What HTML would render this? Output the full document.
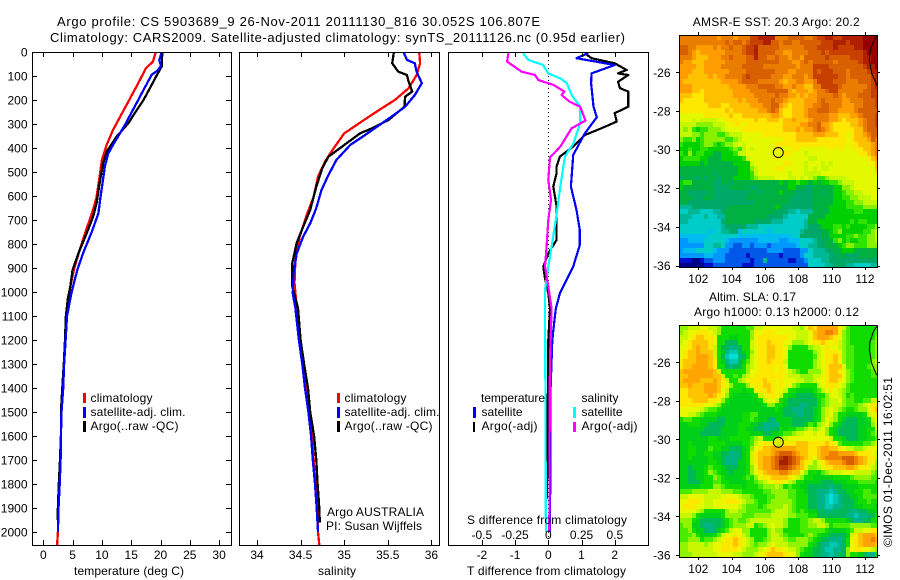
<!DOCTYPE html>
<html>
<head>
<meta charset="utf-8">
<title>Argo profile</title>
<style>
html,body{margin:0;padding:0;background:#fff;}
svg{display:block;}
text{font-family:"Liberation Sans",sans-serif;font-size:12px;fill:#000;}
</style>
</head>
<body>
<svg id="fig" width="900" height="580" viewBox="0 0 900 580" xmlns="http://www.w3.org/2000/svg">
<defs>
<clipPath id="clipT"><rect x="32" y="52" width="199.5" height="493"/></clipPath>
<clipPath id="clipS"><rect x="239" y="52" width="200.5" height="493"/></clipPath>
<clipPath id="clipD"><rect x="448" y="52" width="200.5" height="493"/></clipPath>
<clipPath id="clipM1"><rect x="679" y="35" width="198.5" height="232.5"/></clipPath>
<clipPath id="clipM2"><rect x="679" y="325" width="198.5" height="232"/></clipPath>
</defs>
<rect width="900" height="580" fill="#fff"/>
<text x="57" y="26" font-size="13" style="font-size:13px" textLength="483" lengthAdjust="spacing">Argo profile: CS 5903689_9 26-Nov-2011 20111130_816 30.052S 106.807E</text>
<text x="50" y="42" style="font-size:13px" textLength="575" lengthAdjust="spacing">Climatology: CARS2009. Satellite-adjusted climatology: synTS_20111126.nc (0.95d earlier)</text>

<g id="panelT"></g>
<g id="panelS"></g>
<g id="panelD"></g>
<g id="map1"></g>
<g id="map2"></g>

<text x="74" y="575" textLength="110" lengthAdjust="spacing">temperature (deg C)</text>
<text x="318" y="575" textLength="38" lengthAdjust="spacing">salinity</text>
<text x="467" y="575" textLength="159" lengthAdjust="spacing">T difference from climatology</text>
<text x="467" y="524" textLength="160" lengthAdjust="spacing">S difference from climatology</text>

<g>
<rect x="83" y="393" width="3" height="10" fill="#f00"/>
<rect x="83" y="407" width="3" height="11" fill="#00f"/>
<rect x="83" y="421" width="3" height="11" fill="#000"/>
<text x="90.5" y="402" textLength="62" lengthAdjust="spacing">climatology</text>
<text x="90.5" y="416" textLength="95" lengthAdjust="spacing">satellite-adj. clim.</text>
<text x="90.5" y="430" textLength="88" lengthAdjust="spacing">Argo(..raw -QC)</text>
</g>
<g>
<rect x="337" y="393" width="3" height="10" fill="#f00"/>
<rect x="337" y="407" width="3" height="11" fill="#00f"/>
<rect x="337" y="421" width="3" height="11" fill="#000"/>
<text x="344.5" y="402" textLength="62" lengthAdjust="spacing">climatology</text>
<text x="344.5" y="416" textLength="95" lengthAdjust="spacing">satellite-adj. clim.</text>
<text x="344.5" y="430" textLength="88" lengthAdjust="spacing">Argo(..raw -QC)</text>
<text x="327" y="516" textLength="97" lengthAdjust="spacing">Argo AUSTRALIA</text>
<text x="326" y="530" textLength="96" lengthAdjust="spacing">PI: Susan Wijffels</text>
</g>
<g>
<text x="481" y="402" textLength="64" lengthAdjust="spacing">temperature</text>
<text x="581.5" y="402" textLength="37" lengthAdjust="spacing">salinity</text>
<rect x="473" y="407" width="3" height="11" fill="#00f"/>
<rect x="473" y="422" width="2" height="10" fill="#000"/>
<rect x="573" y="407" width="3" height="11" fill="#0ff"/>
<rect x="573" y="422" width="3" height="10" fill="#f0f"/>
<text x="481.5" y="416" textLength="41" lengthAdjust="spacing">satellite</text>
<text x="481.5" y="430" textLength="56" lengthAdjust="spacing">Argo(-adj)</text>
<text x="581.5" y="416" textLength="41" lengthAdjust="spacing">satellite</text>
<text x="581.5" y="430" textLength="56" lengthAdjust="spacing">Argo(-adj)</text>
</g>

<text x="692.7" y="26" textLength="167" lengthAdjust="spacing">AMSR-E SST: 20.3  Argo: 20.2</text>
<text x="709" y="301" textLength="87" lengthAdjust="spacing">Altim. SLA: 0.17</text>
<text x="694" y="316" textLength="165" lengthAdjust="spacing">Argo h1000: 0.13 h2000: 0.12</text>
<text transform="translate(892,547) rotate(-90)" textLength="170" lengthAdjust="spacing">©IMOS 01-Dec-2011 16:02:51</text>
</svg>

<script>
// ---- temperature profile data
const depthTClim = [0,40,68,130,207,270,325,387,450,520,603,658,728,817,908,978,1026,1100,1200,1300,1400,1500,1600,1700,1800,1900,2000,2054];
const tempClim = [19.2,18.7,17.5,16.2,14.5,13.1,11.9,10.8,10.0,9.6,9.1,8.5,7.5,6.3,5.2,4.6,4.3,3.9,3.7,3.5,3.3,3.05,3.0,2.9,2.75,2.56,2.5,2.35];
const depthTSat = [0,34,60,81,95,144,200,250,305,374,422,478,547,616,672,748,838,908,1005,1100,1200,1300,1400,1500,1600,1700,1800,1900,2000];
const tempSat = [20.2,19.8,20.1,19.3,18.5,17.4,16.2,15.1,13.9,12.2,11.1,10.5,10.1,9.7,9.4,8.3,6.8,5.8,4.8,4.05,3.8,3.55,3.4,3.1,3.0,2.95,2.8,2.6,2.5];
const depthTArgo = [0,60,100,150,200,255,297,353,415,464,547,630,686,755,838,908,978,1026,1100,1200,1300,1400,1500,1600,1700,1800,1900,1950];
const tempArgo = [20.3,20.2,19.3,18.2,17.1,15.6,14.5,12.5,10.8,10.2,9.6,9.1,8.5,7.4,6.0,5.0,4.6,4.2,3.85,3.7,3.5,3.25,3.0,3.0,2.85,2.65,2.5,2.45];

// ---- salinity profile data
const depthSClim = [0,47,96,151,200,244,290,339,401,457,519,603,679,769,867,963,1061,1200,1300,1400,1500,1600,1700,1800,1900,2000,2054];
const salClim = [35.86,35.87,35.83,35.74,35.58,35.39,35.2,35.0,34.88,34.78,34.7,34.65,34.57,34.49,34.44,34.43,34.455,34.49,34.53,34.56,34.6,34.63,34.65,34.67,34.69,34.7,34.715];
const depthSSat = [0,33,47,82,130,179,228,270,308,346,387,450,512,575,650,714,769,839,922,1006,1067,1200,1300,1400,1500,1600,1700,1800,1900,2000];
const salSat = [35.68,35.72,35.81,35.83,35.89,35.81,35.7,35.54,35.39,35.24,35.07,34.91,34.82,34.74,34.68,34.61,34.53,34.455,34.42,34.41,34.44,34.48,34.52,34.55,34.59,34.62,34.64,34.665,34.685,34.7];
const depthSArgo = [0,47,82,96,124,165,186,228,283,318,339,374,436,483,561,658,728,796,879,978,1067,1200,1300,1400,1500,1600,1700,1800,1900,1960];
const salArgo = [35.57,35.55,35.62,35.72,35.74,35.78,35.7,35.69,35.51,35.32,35.18,35.05,34.82,34.75,34.68,34.61,34.53,34.455,34.405,34.405,34.47,34.5,34.54,34.585,34.61,34.655,34.68,34.695,34.715,34.72];

// ---- difference profile data
const depthDTSat = [5,26,54,89,130,186,228,272,339,429,471,561,658,742,804,894,1005,1068,1100,1200,1400,2000];
const diffTSat = [1.2,0.85,2.0,1.3,1.29,1.33,1.36,1.46,1.1,0.75,0.73,0.68,0.85,0.95,0.95,0.75,0.35,0.23,0.2,0.12,0.07,0.05];
const depthDTArgo = [5,26,47,75,89,96,124,151,165,228,255,290,318,346,394,436,478,505,561,644,783,839,894,943,1005,1068,1200,1860];
const diffTArgo = [1.1,1.3,2.0,2.36,2.1,2.41,2.1,2.16,2.41,2.41,2.0,2.06,1.6,1.1,0.75,0.35,0.25,0.25,0.15,0.25,0.25,0,-0.15,-0.1,0,0.05,0,-0.04];
const depthDSSat = [5,33,54,89,110,130,179,228,297,380,436,561,686,811,894,992,1068,1400,2000];
const diffSSat = [-0.19,-0.15,-0.04,0,0.09,0.14,0.175,0.24,0.24,0.19,0.125,0.09,0.06,0.025,0,-0.025,-0.025,-0.022,-0.018];
const depthDSArgo = [5,40,82,96,117,137,165,179,207,228,286,318,394,439,533,617,700,811,894,978,1068,1300,2000];
const diffSArgo = [-0.3,-0.31,-0.2,-0.1,-0.075,0.04,0.12,0.1,0.16,0.24,0.28,0.175,0.09,0.0125,0,0.02,0,-0.0125,-0.025,0,0.025,0.012,0.0075];

// ---- tick labels
const depthTicks = [0,100,200,300,400,500,600,700,800,900,1000,1100,1200,1300,1400,1500,1600,1700,1800,1900,2000];
const tempTicks = [0,5,10,15,20,25,30];
const salTicks = [34,34.5,35,35.5,36];
const dTTicks = [-2,-1,0,1,2];
const dSTicks = [-0.5,-0.25,0,0.25,0.5];
const lonTicks = [102,104,106,108,110,112];
const latTicks = [26,28,30,32,34,36];

// ---- map data (level codes, base 36, rows from north to south)
const sstPalette = ['#000088','#0010c8','#0058e8','#0098ff','#00bcf0','#00ccc8','#00b898','#00a868','#00b040','#00d000','#30e400','#88f000','#c4f800','#e4f800','#ffe800','#ffc000','#ff9c00','#ea7c00','#d86000','#c84000','#b02000','#980000'];
const slaPalette = ['#000088','#0010c8','#0058e8','#0098ff','#00e0d8','#00c8b0','#00b488','#00b858','#00d018','#10dc00','#48ec00','#90f400','#c8f800','#e8f800','#ffe800','#ffc400','#ffa400','#f08000','#d86000','#c04000','#a82000','#980000'];
const sstRows = [
"hhhhhhhh hghhhghh hjjkkkkh hhiiiihh ijjkkjjk kkkkllll",
"hhhhhhhh hhhihiih ijjjkkii hiihhiii iijjjkkk jkkkllll",
"iihhgggg hghhihhi jjkiiiii hhhhhhii ijjjjkjj jjkkllll",
"iihgfggg ggghhhhi jjkiiiih hgghhhhi iijijjjj jjjjklll",
"hhhgfffg gghhihhh iikiihhi hhghhgii iiijiiii ijjjkkll",
"hggfffgg ggghhhhh iiiiiiii hhhgghih iiiiihii iiijkkll",
"ggggffgg gghhhhhi iiiihhhh hhhhghhh jjjjiiii iiiijkkl",
"gggfffgg gggghhhh iiiiiiih hhgghhhh jijjjiii hiiiijkk",
"ggfffffg fgghhhhi jiiiiihh hgghhhgh jjjjjjii hiiiiijk",
"gfffffff ffgggghi iiihhhhh gfgghhgg hjjjjiii hhhiiijk",
"gggfffff ffffgggg hhhiiiih hgghggff hhjjjjih hhhhhijk",
"gggffeff fffffggg ghhhhiii iigfgggf ghhijjhh hhhhiijj",
"fffeeeff fffffggg gghhhhhi hhggfgfg ghhhhihg hhhiiijj",
"feeeeeff ffffffgf ggghhhih hgffffgg ghihhhhg ghhhiiij",
"eeeeeeef ffeeffff fggghhii gfefffgg hhiihhhg gghhiiij",
"eeeeeeee eeefefff fffgghih feefffgh hiiihhgg gghiiiii",
"ddddddee eeeefeef ffffffgg feefffgh hhhhggff fgghiiij",
"dddcdccc cddeeeee eefeefff effgfffg hhhhggfe fffghiij",
"ccccbbbb cccddeed eeeeeeee effffggh higgfeee effghiij",
"cbca9aab bbcdddde eeeeeeee efffgfgg hihgfeee eeffhiii",
"cccbbabb baabcccd ddddeeee eeeeffff gggfffee deffghii",
"baab9abb bbbaabcd dddddddd deeeffff feeeeeee defffgih",
"a9999abb a9abbcdc ddddddde eeeeeeee eeeeeeee deefffgh",
"99a99aa9 9999abac dcddddde dddeeddd ddddeded ddeeffgh",
"a9b9aa99 88999acc dddddddd deedddcd dddddddd dddeefgh",
"9aaaa998 8899999a cdddddde dddddddc cddddddd dddddefg",
"99999898 88888999 9cdddddd deedddcd ddcdcddd ddddddef",
"88888888 88888899 9bcdddde edddddcd cdccdddd dddddddf",
"88888888 78888899 9acddddd ddcdddcc ccdddddd ddddddde",
"78887878 87888999 9abccccd ddccdcdc baabcccc dddddddd",
"9aa88888 77887888 88888888 9899a998 9899aabc ccdddddd",
"98888888 77778888 87788888 88998877 8888899b bcdddddd",
"88777778 77777777 78878888 98887777 8878899a bbccdddd",
"88877788 77777777 88888888 88877777 8888899a abbcccdd",
"88777777 77777777 77888888 88777777 88888999 aabbcccc",
"66677777 77778888 88888889 87777777 88889999 aaaabbbb",
"55666555 66788888 88888887 77665666 88889999 99aa9999",
"66655565 56688888 88888777 76555558 88899999 99999999",
"66555555 55788888 88777766 65555568 89999999 9a9aa999",
"55555555 55677777 66655555 55555567 78999aa9 a9999aab",
"55555554 55667745 55555455 55555677 77889ab9 9999aabc",
"44444445 55555544 44444444 44455777 77889999 aabaabbc",
"33444455 55543333 33344444 33444555 67788ab9 a99aabbc",
"33333355 66533223 32333233 33334556 6778889a bbaaabbb",
"34445555 43332222 22222333 32222335 66677889 99888888",
"33333344 33322222 12222222 12222355 66667788 77788888",
"11100122 33322222 21226222 22112235 55667777 77777777",
"00000011 22222221 11222222 22222225 55566777 66555566"
];
const slaRows = [
"bbcccddc cb999999 aaccdddd dddccbdf egggggec a999999a",
"bcddeeed cb999999 9bddeeed ddddcccd fgghhgeb a999999a",
"ccdeffee d9998899 9bdeeeee eeddcccd fgggfedb a999999b",
"cdeffffe d9977799 9cdeefee eddbbbcd eefedecb a99999ab",
"ddefgffe c9776679 9cdeeffe edb9999b ccdeddcb aa9999ab",
"deffgfff c9865578 9bdeeffe ed999999 bcdeeedb aa9999ab",
"deffgggf c9754467 9cdeeffe ed999999 acdeefeb aa9999ab",
"efffgggf e9865578 acdeefee ec999999 bcdeefdb aa9999bc",
"effggggf e9976779 bcdeeeed ed999999 bcdefffd aa999abb",
"fggggggg fc999999 bddeeeed edcba99b bbdeffed ba9999ab",
"ffgggggg ffc99a9b cdeeeeee edcccbbb ccdefffd ba9999aa",
"fggggfff gfec99bc deeefeed edddccbb cddeffed ba999999",
"ffgfffgg gfedb999 bdeeffed eddba999 9cdeeedc a9999999",
"eeffffgg gfdc9998 99deefed dc998888 9acdedcb a9999999",
"eefffffg fedb9888 889ceeed c9887777 899bddcb 9a999999",
"eeeffffe edb98888 8889cddc 98777777 79abccdb aa99aacc",
"eeeeeedd cb988888 88889bb9 98777667 79abcccb aaabcdee",
"dddddcba a9888888 88888889 87766677 89bcdcba 99abbdef",
"ddccba99 98888889 9aa88888 87776677 89bcdb99 88889cde",
"9aa99888 87788889 9a988768 88877777 89bdcb98 777889cd",
"88999887 77788899 98876666 8887778a 9bcdb987 777888bd",
"88888877 77888899 88776677 9899aabc bcdb9877 7778899c",
"88888777 77888899 98887788 9aabccdd cddb9877 777889ab",
"88888889 98889999 9abc9999 bcdddddd ddddc998 7778899a",
"88988889 99988889 9acdeeee eeeefffe eeefeda9 9999aabc",
"8899888a 99887778 9bdeffgg ggggfffe efggffed ccbbcddd",
"88998899 88776678 9cefffgh iiihgffe efgghhgg ggfeeedc",
"88988889 88766678 9cefgghi jkjihgfe dfghhhhi iihgfeec",
"88888889 98766688 9cefgghi kkjihfed bdefgggh iihgfedb",
"8878889a 99877788 9bdfgghi jjihgfeb bcdeefff ggfeedcb",
"8877889b a9887888 9bdefggg hhgffdb9 98abcccd ddccccba",
"88778899 ba988889 a9bdeeff ffedcb99 88888999 9abbbbaa",
"88777899 aa998888 99abcdde edcb9988 88777888 999aaaa9",
"88888999 bba99998 999abbbc b9a99887 77776778 88899999",
"aaabbbbc ccbbbaa9 9999aabb bbaa9987 76665677 8899aa99",
"ccddddcc ccddddcb ba999aab bbaa9997 76654567 7889aaaa",
"ddeeedcc dddeeedc bba99abb bbba9997 76654567 77899a99",
"deeeddcc ddddddcb aaa9abbb bcba9997 76655667 77889998",
"ddddcb99 999bccbb aaaaaabc ccba9a98 87766777 76677888",
"cccb9888 889bbbba aabbbbcc ccbbaaa9 97777777 66566779",
"bbb98777 7789abaa bccccccc cb999aab ccb99999 87667799",
"abb88766 7789abbb cc9abcdc cb999aab bccb9aaa abbbbbaa",
"aab98876 789acddb b9999bcb b9999aaa aaa98888 9accddee",
"aaab9888 9acddedc b9999bcc ba9999ab a9887777 8cefgggf",
"aabbb9aa bcdeefed cb99abcc cbaabbba 98776667 9defgghg",
"bbccccbc ddeeefed cbabbcdc ccbbbbb9 87665567 9defgggf",
"bbcccccc ddeeeedc bbbcdefe edccba98 77655667 bdeeddcb",
"bbbccccc cddddccb bbcdefff feddb988 77665677 b9987669"
];
const coastLon = [112.74,112.5,112.3,112.26,112.4,112.7];
const coastLat = [24.09,24.42,24.93,25.36,26.05,26.66];
const floatLon = 106.8;
const floatLat = 30.15;

// ---- scales
const yDepth = d => 52 + 0.24 * d;
const xTemp = v => 43.3 + 5.86 * v;
const xSal = v => 257 + 87.2 * (v - 34);
const xDT = v => 548.3 + 33.2 * v;
const xDS = v => 548.3 + 133 * v;
const xLon = v => 698.3 + 16.67 * (v - 102);
const yLat1 = v => 72.3 + 19.33 * (v - 26);
const yLat2 = v => 362.3 + 19.27 * (v - 26);

const SVGNS = 'http://www.w3.org/2000/svg';
function mk(parent, tag) {
  const el = document.createElementNS(SVGNS, tag);
  parent.appendChild(el);
  return el;
}
function frame(parent, x, y, w, h) {
  const el = mk(parent, 'rect');
  
  
  el.setAttribute('x', x + 0.5);
  el.setAttribute('y', y + 0.5);
  el.setAttribute('width', w);
  el.setAttribute('height', h);
  el.setAttribute('fill', 'none');
  el.setAttribute('stroke', '#000');
  el.setAttribute('stroke-width', '1');
  el.setAttribute('shape-rendering', 'crispEdges');
}
function tick(parent, x1, y1, x2, y2) {
  const el = mk(parent, 'line');
  
  
  el.setAttribute('x1', x1);
  el.setAttribute('y1', y1);
  el.setAttribute('x2', x2);
  el.setAttribute('y2', y2);
  el.setAttribute('stroke', '#000');
  el.setAttribute('stroke-width', '1');
  el.setAttribute('shape-rendering', 'crispEdges');
}
function label(parent, x, y, txt, anchor) {
  const el = mk(parent, 'text');
  
  
  el.setAttribute('x', x);
  el.setAttribute('y', y);
  el.setAttribute('text-anchor', anchor);
  el.textContent = txt;
}
function profile(parent, name, depths, values, xf, color, clip, width) {
  const el = mk(parent, 'polyline');
  
  
  el.setAttribute('points', depths.map((d, i) => xf(values[i]).toFixed(1) + ',' + yDepth(d).toFixed(1)).join(' '));
  el.setAttribute('fill', 'none');
  el.setAttribute('stroke', color);
  el.setAttribute('stroke-width', width || 2);
  el.setAttribute('stroke-linejoin', 'round');
  el.setAttribute('shape-rendering', 'crispEdges');
  el.setAttribute('clip-path', 'url(#' + clip + ')');
}
function xTicks(parent, ticks, xf, labelY) {
  ticks.forEach(v => {
    const x = Math.round(xf(v)) + 0.5;
    tick(parent, x, 52, x, 57);
    tick(parent, x, 540, x, 545);
    label(parent, xf(v), labelY, String(v), 'middle');
  });
}

// ---- temperature panel
const pT = document.getElementById('panelT');
profile(pT, 'series-climatology', depthTClim, tempClim, xTemp, '#f00', 'clipT', 2.3);
profile(pT, 'series-argo', depthTArgo, tempArgo, xTemp, '#000', 'clipT', 2.3);
profile(pT, 'series-satellite-adj', depthTSat, tempSat, xTemp, '#00f', 'clipT', 2.3);
xTicks(pT, tempTicks, xTemp, 559);
depthTicks.forEach(d => {
  const y = Math.round(yDepth(d)) + 0.5;
  tick(pT, 32, y, 37, y);
  tick(pT, 226, y, 231, y);
  label(pT, 27.5, yDepth(d) + 4.5, String(d), 'end');
});
frame(pT, 32, 52, 199, 493);

// ---- salinity panel
const pS = document.getElementById('panelS');
profile(pS, 'series-climatology', depthSClim, salClim, xSal, '#f00', 'clipS', 2.3);
profile(pS, 'series-argo', depthSArgo, salArgo, xSal, '#000', 'clipS', 2.3);
profile(pS, 'series-satellite-adj', depthSSat, salSat, xSal, '#00f', 'clipS', 2.3);
xTicks(pS, salTicks, xSal, 559);
frame(pS, 239, 52, 200, 493);

// ---- difference panel
const pD = document.getElementById('panelD');
const zeroLine = mk(pD, 'line');


zeroLine.setAttribute('x1', 548.5);
zeroLine.setAttribute('y1', 52);
zeroLine.setAttribute('x2', 548.5);
zeroLine.setAttribute('y2', 545);
zeroLine.setAttribute('stroke', '#000');
zeroLine.setAttribute('stroke-dasharray', '1 3');
zeroLine.setAttribute('shape-rendering', 'crispEdges');
profile(pD, 'series-t-argo', depthDTArgo, diffTArgo, xDT, '#000', 'clipD', 2.2);
profile(pD, 'series-t-satellite', depthDTSat, diffTSat, xDT, '#00f', 'clipD', 2.2);
profile(pD, 'series-s-satellite', depthDSSat, diffSSat, xDS, '#0ff', 'clipD', 2.2);
profile(pD, 'series-s-argo', depthDSArgo, diffSArgo, xDS, '#f0f', 'clipD', 2.2);
xTicks(pD, dTTicks, xDT, 559);
dSTicks.forEach(v => label(pD, xDS(v), 539, String(v), 'middle'));
frame(pD, 448, 52, 200, 493);

// ---- maps
function drawMap(gid, rows, palette, yLat, top, bottom, clip, markerFill) {
  const g = document.getElementById(gid);
  const cells = mk(g, 'g');
  
  
  cells.setAttribute('clip-path', 'url(#' + clip + ')');
  const startLon = 100.86;
  const startLat = 24.09;
  const step = 0.25;
  rows.forEach((row, j) => {
    const chars = row.replace(/ /g, '');
    for (let i = 0; i < chars.length; i++) {
      const level = parseInt(chars[i], 36);
      const x0 = Math.round(xLon(startLon + i * step));
      const x1 = Math.round(xLon(startLon + (i + 1) * step));
      const y0 = Math.round(yLat(startLat + j * step));
      const y1 = Math.round(yLat(startLat + (j + 1) * step));
      const c = mk(cells, 'rect');
      
      
      c.setAttribute('x', x0);
      c.setAttribute('y', y0);
      c.setAttribute('width', x1 - x0);
      c.setAttribute('height', y1 - y0);
      c.setAttribute('fill', palette[level]);
    }
  });
  const coast = mk(g, 'polyline');
  
  
  coast.setAttribute('points', coastLon.map((v, i) => xLon(v).toFixed(1) + ',' + yLat(coastLat[i]).toFixed(1)).join(' '));
  coast.setAttribute('fill', 'none');
  coast.setAttribute('stroke', '#000');
  coast.setAttribute('stroke-width', '1');
  const marker = mk(g, 'circle');
  
  
  marker.setAttribute('cx', xLon(floatLon));
  marker.setAttribute('cy', yLat(floatLat));
  marker.setAttribute('r', '5');
  marker.setAttribute('fill', markerFill);
  marker.setAttribute('stroke', '#000');
  marker.setAttribute('stroke-width', '1');
  lonTicks.forEach(v => {
    const x = Math.round(xLon(v)) + 0.5;
    tick(g, x, top - 3, x, top);
    tick(g, x, bottom, x, bottom + 3);
    label(g, xLon(v), bottom + 16, String(v), 'middle');
  });
  latTicks.forEach(v => {
    const y = Math.round(yLat(v)) + 0.5;
    tick(g, 676, y, 679, y);
    tick(g, 877, y, 880, y);
    label(g, 670.5, yLat(v) + 4.5, '-' + v, 'end');
  });
  frame(g, 679, top, 198, bottom - top);
}
drawMap('map1', sstRows, sstPalette, yLat1, 35, 267, 'clipM1', 'none');
drawMap('map2', slaRows, slaPalette, yLat2, 325, 557, 'clipM2', '#d8f000');
</script>
</body>
</html>
